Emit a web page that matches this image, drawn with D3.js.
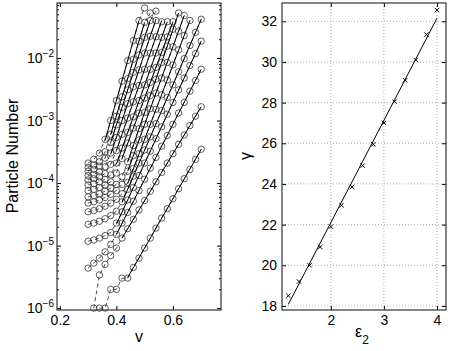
<!DOCTYPE html>
<html>
<head>
<meta charset="utf-8">
<script src="https://cdnjs.cloudflare.com/ajax/libs/d3/7.8.5/d3.min.js"></script>
<style>
body { margin: 0; background: #fff; }
svg { display: block; font-family: "Liberation Sans", Arial, sans-serif; }
</style>
</head>
<body>
<svg width="450" height="351"></svg>
<script>
var svg = d3.select('svg');

// ---- left panel data: log10(particle number) vs v, one row per eps2 (1.2 .. 4.0)
var vStep = 0.02;
var startV = [0.34, 0.32, 0.30, 0.30, 0.30, 0.30, 0.30, 0.30, 0.30, 0.30, 0.30, 0.30, 0.30, 0.30, 0.30];
var logN = [
    [-6.0, -6.0, -5.70, -5.70, -5.52, -5.52, -5.35, -5.20, -5.04, -4.88, -4.72, -4.56, -4.41, -4.25, -4.09, -3.93, -3.78, -3.62, -3.46],
    [-6.0, -5.47, -5.30, -5.16, -5.04, -4.88, -4.73, -4.58, -4.43, -4.28, -4.13, -3.98, -3.83, -3.68, -3.53, -3.38, -3.23, -3.08, -2.93, -2.78],
    [-5.36, -5.28, -5.20, -5.10, -4.98, -4.82, -4.64, -4.47, -4.29, -4.12, -3.94, -3.76, -3.59, -3.41, -3.24, -3.06, -2.88, -2.71, -2.53, -2.36, -2.18],
    [-4.93, -4.91, -4.88, -4.84, -4.79, -4.64, -4.46, -4.27, -4.07, -3.88, -3.68, -3.49, -3.29, -3.10, -2.90, -2.71, -2.51, -2.32, -2.12, -1.93, -1.73],
    [-4.66, -4.64, -4.61, -4.57, -4.52, -4.45, -4.30, -4.10, -3.89, -3.68, -3.47, -3.26, -3.05, -2.84, -2.63, -2.43, -2.22, -2.01, -1.80, -1.59, -1.38],
    [-4.46, -4.44, -4.41, -4.37, -4.32, -4.26, -4.17, -3.99, -3.77, -3.53, -3.30, -3.06, -2.82, -2.59, -2.35, -2.11, -1.87, -1.64, -1.40],
    [-4.32, -4.30, -4.27, -4.23, -4.18, -4.12, -4.02, -3.81, -3.56, -3.31, -3.06, -2.81, -2.56, -2.32, -2.07, -1.82, -1.57, -1.32],
    [-4.22, -4.20, -4.17, -4.13, -4.08, -4.02, -3.90, -3.66, -3.40, -3.13, -2.87, -2.60, -2.34, -2.07, -1.81, -1.54, -1.28],
    [-4.12, -4.10, -4.07, -4.03, -3.98, -3.84, -3.61, -3.36, -3.12, -2.88, -2.64, -2.39, -2.15, -1.91, -1.66, -1.42],
    [-4.03, -4.01, -3.98, -3.94, -3.87, -3.68, -3.44, -3.19, -2.94, -2.68, -2.43, -2.18, -1.92, -1.67, -1.42],
    [-3.95, -3.93, -3.90, -3.85, -3.70, -3.48, -3.22, -2.96, -2.70, -2.44, -2.18, -1.92, -1.66, -1.42],
    [-3.88, -3.86, -3.82, -3.74, -3.52, -3.27, -3.00, -2.73, -2.46, -2.19, -1.92, -1.65, -1.40],
    [-3.81, -3.78, -3.73, -3.60, -3.35, -3.07, -2.79, -2.51, -2.23, -1.95, -1.67, -1.40, -1.25],
    [-3.75, -3.71, -3.66, -3.50, -3.22, -2.93, -2.62, -2.33, -2.02, -1.73, -1.43, -1.28],
    [-3.68, -3.62, -3.52, -3.30, -3.00, -2.68, -2.37, -2.04, -1.72, -1.40, -1.20]
];
// exponential fits (solid lines): v range and log10 N at both ends
var fitV = [[0.44, 0.70], [0.42, 0.70], [0.40, 0.70], [0.40, 0.70], [0.42, 0.70], [0.44, 0.66], [0.44, 0.64],
    [0.44, 0.62], [0.42, 0.60], [0.40, 0.58], [0.40, 0.56], [0.38, 0.54], [0.38, 0.52], [0.38, 0.50], [0.36, 0.48]];
var fitLog = [[-5.51, -3.46], [-4.88, -2.78], [-4.82, -2.18], [-4.66, -1.73], [-4.31, -1.38], [-4.01, -1.40], [-3.81, -1.32],
    [-3.66, -1.28], [-3.61, -1.42], [-3.70, -1.42], [-3.48, -1.40], [-3.54, -1.38], [-3.35, -1.39], [-3.22, -1.43], [-3.32, -1.40]];
var majorL = [1e-6, 1e-5, 1e-4, 1e-3, 1e-2];
var xTicksL = [0.2, 0.4, 0.6];

// ---- right panel data: growth exponent vs eps2
var eps2 = [1.2, 1.4, 1.6, 1.8, 2.0, 2.2, 2.4, 2.6, 2.8, 3.0, 3.2, 3.4, 3.6, 3.8, 4.0];
var gammaVals = [18.5, 19.2, 20.0, 20.9, 21.9, 22.95, 23.85, 24.9, 25.95, 27.0, 28.05, 29.1, 30.1, 31.35, 32.55];
var fitEps = [1.2, 4.0];
var fitGamma = [18.08, 32.15];
var xTicksR = [2, 3, 4];
var yTicksR = [18, 20, 22, 24, 26, 28, 30, 32];

function noDomain(g) { g.select('.domain').remove(); g.selectAll('line').attr('stroke', '#000'); }

// ================= left panel
var xL = d3.scaleLinear().domain([0.19, 0.77]).range([57, 221]);
var yL = d3.scaleLog().domain([Math.pow(10, -6.03), Math.pow(10, -1.12)]).range([310, 3]);
var left = svg.append('g');

var minorL = [];
for (var e = -7; e <= -2; e++) {
    for (var m = 2; m <= 9; m++) {
        var t = m * Math.pow(10, e);
        if (t > yL.domain()[0] && t < yL.domain()[1]) minorL.push(t);
    }
}

left.append('g').attr('transform', 'translate(57,0)')
    .call(d3.axisLeft(yL).tickValues(majorL).tickSize(-4).tickFormat('')).call(noDomain);
left.append('g').attr('transform', 'translate(57,0)')
    .call(d3.axisLeft(yL).tickValues(minorL).tickSize(-2).tickFormat('')).call(noDomain);
left.append('g').attr('transform', 'translate(221,0)')
    .call(d3.axisRight(yL).tickValues(majorL).tickSize(-4).tickFormat('')).call(noDomain);
left.append('g').attr('transform', 'translate(221,0)')
    .call(d3.axisRight(yL).tickValues(minorL).tickSize(-2).tickFormat('')).call(noDomain);
left.append('g').attr('transform', 'translate(0,310)')
    .call(d3.axisBottom(xL).tickValues(xTicksL).tickSize(-4).tickPadding(5).tickFormat(d3.format('.1f')))
    .call(noDomain)
    .selectAll('text').attr('font-size', 14).attr('font-family', null).attr('fill', '#000');
left.append('g').attr('transform', 'translate(0,3)')
    .call(d3.axisTop(xL).tickValues(xTicksL).tickSize(-4).tickFormat('')).call(noDomain);

majorL.forEach(function(t) {
    var txt = left.append('text')
        .attr('x', 54).attr('y', yL(t) + 5)
        .attr('text-anchor', 'end').attr('font-size', 14);
    txt.append('tspan').text('10');
    txt.append('tspan').attr('dy', -6).attr('font-size', 10).text('\u2212' + Math.round(-Math.log10(t)));
});

var lineL = d3.line().x(function(d) { return xL(d.v); }).y(function(d) { return yL(d.n); });

var series = logN.map(function(row, k) {
    return row.map(function(l, i) { return {v: startV[k] + i * vStep, n: Math.pow(10, l)}; });
});

left.selectAll('path.dash')
    .data(series)
    .enter()
    .append('path')
    .attr('class', 'dash')
    .attr('d', lineL)
    .attr('fill', 'none')
    .attr('stroke', '#000')
    .attr('stroke-width', 0.7)
    .attr('stroke-dasharray', '4,3');

series.forEach(function(pts) {
    left.selectAll(null)
        .data(pts)
        .enter()
        .append('circle')
        .attr('cx', function(d) { return xL(d.v); })
        .attr('cy', function(d) { return yL(d.n); })
        .attr('r', 3.2)
        .attr('fill', 'none')
        .attr('stroke', '#333')
        .attr('stroke-width', 0.8);
});

left.selectAll('line.fit')
    .data(fitV)
    .enter()
    .append('line')
    .attr('class', 'fit')
    .attr('x1', function(d) { return xL(d[0]); })
    .attr('x2', function(d) { return xL(d[1]); })
    .attr('y1', function(d, i) { return yL(Math.pow(10, fitLog[i][0])); })
    .attr('y2', function(d, i) { return yL(Math.pow(10, fitLog[i][1])); })
    .attr('stroke', '#000')
    .attr('stroke-width', 1);

left.append('rect').attr('x', 57).attr('y', 3).attr('width', 164).attr('height', 307)
    .attr('fill', 'none').attr('stroke', '#333').attr('stroke-width', 1.2);

left.append('text').attr('x', 139).attr('y', 342).attr('text-anchor', 'middle')
    .attr('font-size', 16).text('v');
left.append('text').attr('transform', 'translate(18,156) rotate(-90)').attr('text-anchor', 'middle')
    .attr('font-size', 16).text('Particle Number');

// ================= right panel
var xR = d3.scaleLinear().domain([1.08, 4.17]).range([282, 446]);
var yR = d3.scaleLinear().domain([17.8, 32.9]).range([310, 3]);
var right = svg.append('g');

right.selectAll('line.gx')
    .data(xTicksR)
    .enter()
    .append('line')
    .attr('x1', function(d) { return xR(d); })
    .attr('x2', function(d) { return xR(d); })
    .attr('y1', 3).attr('y2', 310)
    .attr('stroke', '#999').attr('stroke-width', 0.8).attr('stroke-dasharray', '1,2');
right.selectAll('line.gy')
    .data(yTicksR)
    .enter()
    .append('line')
    .attr('y1', function(d) { return yR(d); })
    .attr('y2', function(d) { return yR(d); })
    .attr('x1', 282).attr('x2', 446)
    .attr('stroke', '#999').attr('stroke-width', 0.8).attr('stroke-dasharray', '1,2');

right.append('g').attr('transform', 'translate(0,310)')
    .call(d3.axisBottom(xR).tickValues(xTicksR).tickSize(-4).tickPadding(5).tickFormat(d3.format('d')))
    .call(noDomain)
    .selectAll('text').attr('font-size', 14).attr('font-family', null).attr('fill', '#000');
right.append('g').attr('transform', 'translate(0,3)')
    .call(d3.axisTop(xR).tickValues(xTicksR).tickSize(-4).tickFormat('')).call(noDomain);
right.append('g').attr('transform', 'translate(282,0)')
    .call(d3.axisLeft(yR).tickValues(yTicksR).tickSize(-4).tickPadding(5).tickFormat(d3.format('d')))
    .call(noDomain)
    .selectAll('text').attr('font-size', 14).attr('font-family', null).attr('fill', '#000');
right.append('g').attr('transform', 'translate(446,0)')
    .call(d3.axisRight(yR).tickValues(yTicksR).tickSize(-4).tickFormat('')).call(noDomain);

right.append('line')
    .attr('x1', xR(fitEps[0])).attr('y1', yR(fitGamma[0]))
    .attr('x2', xR(fitEps[1])).attr('y2', yR(fitGamma[1]))
    .attr('stroke', '#000').attr('stroke-width', 1);

right.selectAll('path.mark')
    .data(eps2)
    .enter()
    .append('path')
    .attr('class', 'mark')
    .attr('transform', function(d, i) { return 'translate(' + xR(d) + ',' + yR(gammaVals[i]) + ')'; })
    .attr('d', 'M-2.2,-2.2L2.2,2.2M-2.2,2.2L2.2,-2.2')
    .attr('stroke', '#000')
    .attr('stroke-width', 1);

right.append('rect').attr('x', 282).attr('y', 3).attr('width', 164).attr('height', 307)
    .attr('fill', 'none').attr('stroke', '#333').attr('stroke-width', 1.2);

var epsLabel = right.append('text').attr('x', 362).attr('y', 337).attr('text-anchor', 'middle').attr('font-size', 16);
epsLabel.append('tspan').text('\u03b5');
epsLabel.append('tspan').attr('dy', 7).attr('font-size', 12).text('2');
right.append('text').attr('transform', 'translate(251,156) rotate(-90)').attr('text-anchor', 'middle')
    .attr('font-size', 16).text('\u03b3');
</script>
</body>
</html>
